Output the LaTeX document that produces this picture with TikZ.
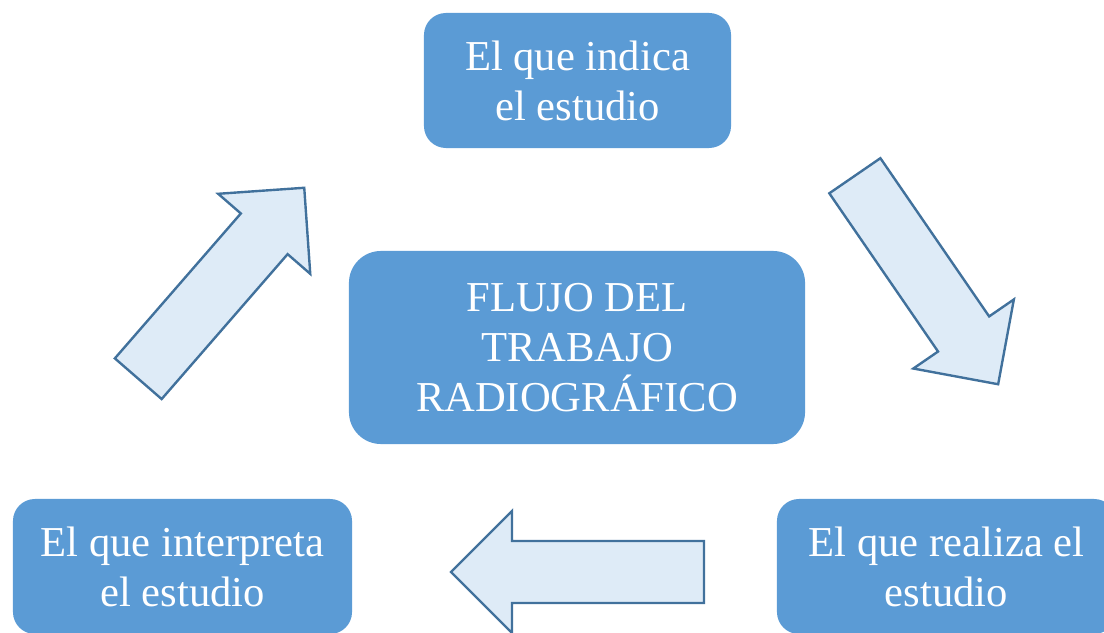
\documentclass[tikz,border=0pt]{standalone}
\usepackage{fontspec}
\setmainfont{Liberation Serif}
\definecolor{boxblue}{HTML}{5B9BD5}
\definecolor{arrowfill}{HTML}{DEEBF7}
\definecolor{arrowline}{HTML}{41719C}
\tikzset{
  stepbox/.style={fill=boxblue,text=white,align=center,inner sep=0pt,
    minimum height=3.375cm,rounded corners=.55cm,
    font=\fontsize{30.3}{35.6}\selectfont},
  flowarrow/.style={fill=arrowfill,draw=arrowline,line width=1.7pt}
}
\begin{document}
\begin{tikzpicture}[x=.025cm,y=.025cm]
  \useasboundingbox (0,0) rectangle (1104,632);
  \clip (0,0) rectangle (1104,632);
  \node[stepbox,minimum width=7.675cm] (indica) at (577.5,551.5) {El que indica\\el estudio};
  \node[stepbox,minimum width=11.4cm,minimum height=4.825cm,rounded corners=.8cm] (flujo) at (577,284.5) {FLUJO DEL\\TRABAJO\\RADIOGRÁFICO};
  \node[stepbox,minimum width=8.475cm] (interpreta) at (182.5,65.5) {El que interpreta\\el estudio};
  \node[stepbox,minimum width=8.475cm] (realiza) at (946.5,65.5) {El que realiza el\\estudio};
  % block arrows of the cycle
  \foreach \cx/\cy/\ang in {221.25/348.75/49, 926.5/352/-55.5, 577.5/60/180} {
    \begin{scope}[shift={(\cx,\cy)},rotate=\ang]
      \draw[flowarrow] (-126.5,-31)--(65.5,-31)--(65.5,-61)--(126.5,0)--(65.5,61)--(65.5,31)--(-126.5,31)--cycle;
    \end{scope}
  }
\end{tikzpicture}
\end{document}
